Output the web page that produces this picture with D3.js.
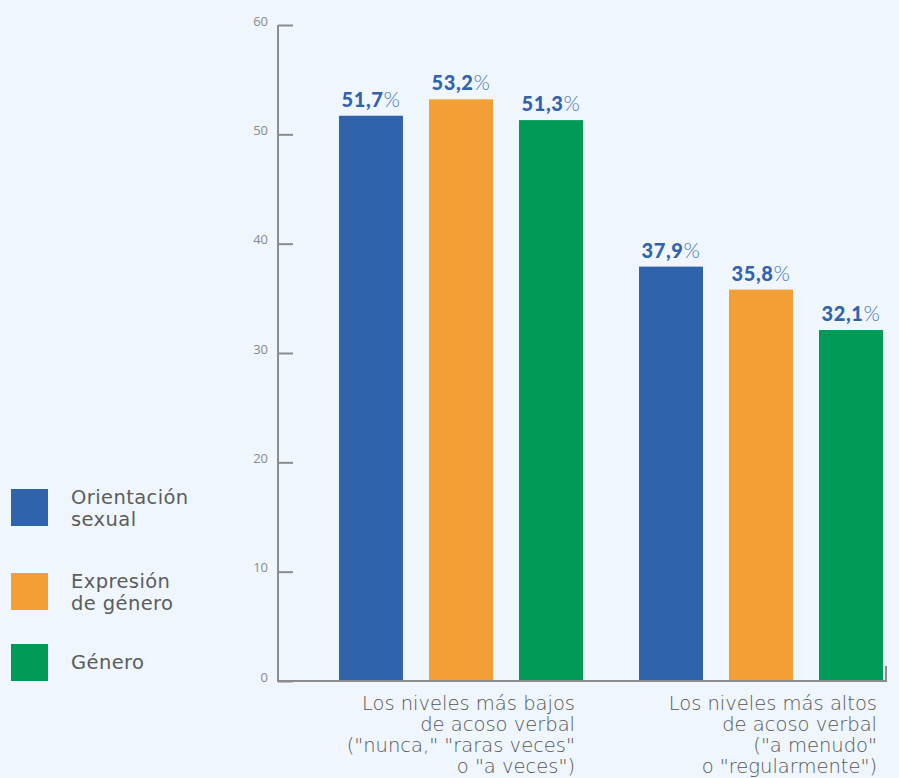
<!DOCTYPE html>
<html><head><meta charset="utf-8">
<script src="https://cdn.jsdelivr.net/npm/d3@7"></script>
<style>
html,body{margin:0;padding:0;background:#eff6fd;}
svg{display:block;}
</style></head>
<body>
<svg id="chart" width="899" height="778"></svg>
<script>
const categories = [
  ["Los niveles más bajos", "de acoso verbal", "(\"nunca,\" \"raras veces\"", "o \"a veces\")"],
  ["Los niveles más altos", "de acoso verbal", "(\"a menudo\"", "o \"regularmente\")"]
];
const seriesNames = [["Orientación", "sexual"], ["Expresión", "de género"], ["Género"]];
const seriesColors = ["#3162ac", "#f49f35", "#009a57"];
const orientacionSexual = [51.7, 37.9];
const expresionGenero = [53.2, 35.8];
const genero = [51.3, 32.1];
const yTicks = [0, 10, 20, 30, 40, 50, 60];

const seriesValues = [orientacionSexual, expresionGenero, genero];
const svg = d3.select("#chart");
const axisColor = "#8c8c8c";

const y = d3.scaleLinear().domain([0, 60]).range([681, 25]);
const groupCenters = [461, 761];
const x1 = d3.scaleBand().domain([0, 1, 2]).range([-122, 122]).paddingInner(26 / 90).paddingOuter(0);

// y axis
const yAxis = d3.axisRight(y).tickValues(yTicks).tickSize(15).tickFormat("");
const gy = svg.append("g").attr("transform", "translate(278,0)").call(yAxis);
gy.select(".domain").attr("stroke", axisColor).attr("stroke-width", 2).attr("d", "M0,25V681");
gy.selectAll(".tick line").attr("stroke", axisColor).attr("stroke-width", 2);
svg.append("g").selectAll("text").data(yTicks).join("text")
  .attr("x", 268).attr("y", d => y(d) - 4).attr("dy", "0.35em")
  .attr("text-anchor", "end").attr("fill", "#8a8a8a")
  .attr("font-family", "Open Sans, sans-serif").attr("font-size", 13)
  .text(d => d);

// bars
const bars = [];
seriesValues.forEach((vals, s) => vals.forEach((v, g) => bars.push({s, g, v})));
svg.append("g").selectAll("rect").data(bars).join("rect")
  .attr("x", d => groupCenters[d.g] + x1(d.s))
  .attr("width", x1.bandwidth())
  .attr("y", d => y(d.v))
  .attr("height", d => y(0) - y(d.v))
  .attr("fill", d => seriesColors[d.s]);

// value labels
const lbl = svg.append("g").selectAll("text").data(bars).join("text")
  .attr("x", d => groupCenters[d.g] + x1(d.s) + x1.bandwidth() / 2)
  .attr("y", d => y(d.v) - 9)
  .attr("text-anchor", "middle").attr("fill", "#3162ac")
  .attr("font-family", "Lato, sans-serif").attr("font-size", 20).attr("letter-spacing", 0.6);
lbl.append("tspan").attr("font-weight", "900").text(d => d.v.toFixed(1).replace(".", ","));
lbl.append("tspan").attr("font-weight", "300").attr("fill", "#4a76bd").attr("font-size", 21).text("%");

// x axis
svg.append("path").attr("d", "M277,681H887M886,681V666")
  .attr("stroke", axisColor).attr("stroke-width", 2).attr("fill", "none");

// category labels
const catRight = [575, 877];
categories.forEach((lines, g) => {
  const t = svg.append("text").attr("text-anchor", "end").attr("fill", "#555")
    .attr("font-family", "DejaVu Sans, sans-serif").attr("font-size", 19.5).attr("font-weight", 200);
  lines.forEach((ln, i) => t.append("tspan").attr("x", catRight[g]).attr("y", 710 + i * 21).text(ln));
});

// legend
const legY = [489, 573, 644];
const leg = svg.append("g");
seriesNames.forEach((nm, i) => {
  leg.append("rect").attr("x", 11).attr("y", legY[i]).attr("width", 37).attr("height", 37).attr("fill", seriesColors[i]);
  const t = leg.append("text").attr("fill", "#5c5c5c")
    .attr("font-family", "DejaVu Sans, sans-serif").attr("font-size", 19.5).attr("letter-spacing", 0.4);
  if (nm.length === 2) {
    t.append("tspan").attr("x", 71).attr("y", legY[i] + 15).text(nm[0]);
    t.append("tspan").attr("x", 71).attr("y", legY[i] + 37).text(nm[1]);
  } else {
    t.append("tspan").attr("x", 71).attr("y", legY[i] + 25).text(nm[0]);
  }
});
</script>
</body></html>
